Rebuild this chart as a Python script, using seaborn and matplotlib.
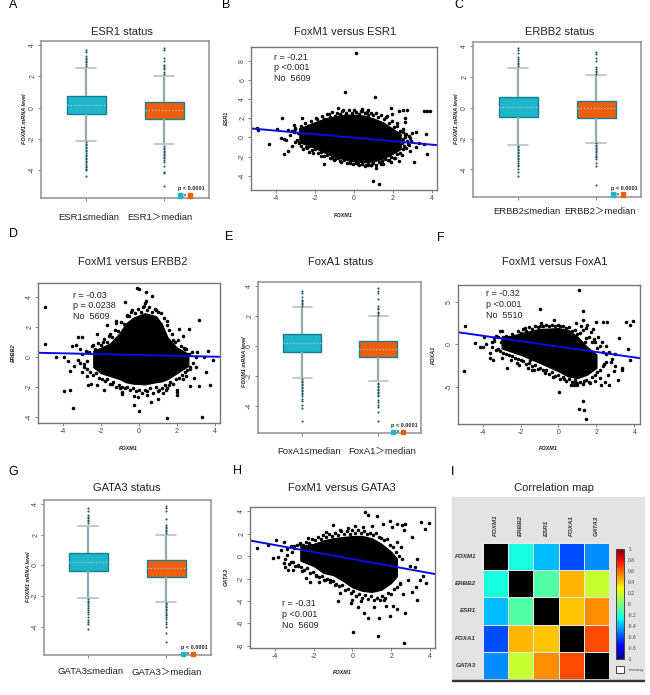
#!/usr/bin/env python

import numpy as np
import pandas as pd
import seaborn as sns
import matplotlib
matplotlib.use("Agg")
import matplotlib.pyplot as plt
from matplotlib.patches import Rectangle

# Box summaries: low whisker, q1, median, q3, high whisker
esr1_low = [-2.15, -0.42, 0.18, 0.76, 2.57]
esr1_high = [-2.34, -0.72, -0.15, 0.38, 2.0]
erbb2_low = [-2.39, -0.58, 0.05, 0.7, 2.57]
erbb2_high = [-2.26, -0.65, -0.05, 0.46, 2.1]
foxa1_low = [-2.15, -0.38, 0.2, 0.8, 2.6]
foxa1_high = [-2.36, -0.75, -0.17, 0.35, 2.0]
gata3_low = [-2.13, -0.39, 0.2, 0.79, 2.58]
gata3_high = [-2.38, -0.75, -0.17, 0.34, 2.0]

# Outliers beyond the whiskers
esr1_low_out = [3.7, 3.55, 3.3, 3.2, 3.1, 3.0, 2.9, 2.8, 2.7, -2.2, -2.3, -2.4, -2.5, -2.6, -2.7, -2.8, -2.9, -3.0,
                -3.1, -3.2, -3.3, -3.4, -3.5, -3.6, -3.7, -3.8, -3.9, -4.0, -4.4]
esr1_high_out = [3.85, 3.7, 3.15, 3.0, 2.75, 2.65, 2.55, 2.45, 2.3, 2.15, -2.45, -2.55, -2.65, -2.75, -2.85, -2.95,
                 -3.05, -3.15, -3.25, -3.35, -3.5, -3.7, -4.1, -4.2, -5.0]
erbb2_low_out = [3.85, 3.7, 3.55, 3.3, 3.15, 3.05, 2.9, 2.8, 2.7, -2.45, -2.55, -2.65, -2.75, -2.85, -2.95, -3.05,
                 -3.15, -3.25, -3.35, -3.45, -3.6, -3.7, -3.8, -3.95, -4.15, -4.4]
erbb2_high_out = [3.6, 3.45, 3.2, 3.0, 2.6, 2.5, 2.4, 2.3, 2.2, -2.3, -2.4, -2.5, -2.6, -2.7, -2.8, -2.9, -3.0, -3.1,
                  -3.2, -3.35, -3.55, -3.8, -5.0]
foxa1_low_out = [3.7, 3.55, 3.25, 3.1, 3.0, 2.9, 2.8, 2.7, -2.2, -2.3, -2.4, -2.5, -2.6, -2.7, -2.8, -2.9, -3.0, -3.1,
                 -3.2, -3.35, -3.5, -3.65, -3.9, -4.1, -5.0]
foxa1_high_out = [3.85, 3.7, 3.55, 3.15, 2.65, 2.55, 2.45, 2.3, 2.2, 2.1, -2.45, -2.55, -2.65, -2.75, -2.85, -2.95,
                  -3.05, -3.15, -3.25, -3.35, -3.6, -3.75, -3.9, -4.05, -4.4, -5.0]
gata3_low_out = [3.7, 3.55, 3.25, 3.15, 3.05, 2.95, 2.85, 2.75, -2.2, -2.3, -2.4, -2.5, -2.65, -2.8, -2.95, -3.05,
                 -3.2, -3.4, -3.55, -3.7, -3.85, -4.15]
gata3_high_out = [3.85, 3.7, 3.55, 3.0, 2.65, 2.5, 2.4, 2.3, 2.2, 2.1, -2.45, -2.55, -2.65, -2.75, -2.85, -2.95, -3.05,
                  -3.15, -3.25, -3.35, -3.5, -3.7, -3.85, -4.0, -4.4, -5.0]

# ESR1 scatter: dense core envelope and the points around it
b_core_x = [-2.8, -2.4, -2.0, -1.5, -1.0, -0.5, 0.0, 0.5, 1.0, 1.5, 2.0, 2.4]
b_core_top = [0.9, 1.3, 1.6, 2.0, 2.2, 2.4, 2.4, 2.3, 2.0, 1.6, 0.9, 0.4]
b_core_bot = [-0.5, -0.8, -1.1, -1.6, -2.0, -2.3, -2.5, -2.6, -2.5, -2.2, -1.7, -1.2]
b_x = [0.1, -0.46, 1.09, 1.0, 1.3, 1.11, -1.52, -4.36, -3.57, -3.37, -3.7, -3.93, -4.96, -4.94, 3.57, 3.73, 3.91, 3.76,
       3.69, 3.6, 3.09, 3.2, 3.0, 2.7, 2.5, 2.32, 1.91, -0.8, 0.0, 0.43, 0.73, 1.93, 2.6, 2.62, -2.65, -3.1, -3.3,
       -3.0, -2.9, -3.5, -3.6, -3.2, -2.7, -2.4, -2.1, -1.9, -1.3, -1.1, -0.6, 0.4, 0.65, 0.85, 1.4, 1.7, 2.2, 2.5,
       2.75, 2.9, 3.2, 3.35, 2.3, 1.9, 1.5, 0.9, 0.7, 0.6, 0.2, -0.2, -0.7, -1.0, -1.7, -2.3, -2.6, -2.75, 2.45, 2.1,
       1.8, -3.75, -3.4, -3.05]
b_y = [8.9, 4.74, 4.29, -4.56, -4.9, -3.24, -2.79, -0.7, -1.7, -1.4, 2.0, 0.87, 0.98, 0.77, 2.82, 2.82, 2.82, -1.78,
       0.35, -0.73, -2.54, 0.6, 0.5, 2.86, 2.93, 2.79, 3.14, 3.1, 2.86, 3.03, 2.86, 2.5, 1.64, 2.09, 2.05, 0.6, 0.3,
       1.0, -0.3, -0.3, -0.2, -0.9, -0.9, -1.1, -1.6, 1.9, 2.5, -2.2, 2.75, 2.8, 2.65, -2.9, -2.75, 2.3, 1.5, 0.9,
       -0.7, -1.4, -1.0, -0.6, -2.5, -2.6, -2.75, -2.85, -2.85, -2.85, -2.75, -2.65, -2.5, -2.4, -1.9, -1.5, -1.2,
       0.9, -1.8, -2.1, -2.35, -0.1, 0.75, 1.3]
b_edge_x = [-3.2, -3.0, -2.85, -2.7, -2.6, -2.5, -2.35, -2.2, -2.05, -1.95, -1.8, -1.65, -1.55, -1.4, -1.25, -1.15,
            -0.95, -0.85, -0.7, -0.55, -0.4, -0.25, -0.1, 0.1, 0.25, 0.35, 0.55, 0.7, 0.85, 1.0, 1.15, 1.25, 1.4, 1.55,
            1.65, 1.8, 1.95, 2.05, 2.2, 2.35, 2.5, 2.6,
            -3.0, -2.8, -2.6, -2.45, -2.3, -2.15, -2.0, -1.85, -1.7, -1.55, -1.4, -1.25, -1.1, -0.95, -0.8, -0.65,
            -0.5, -0.35, -0.2, -0.05, 0.1, 0.25, 0.4, 0.55, 0.7, 0.85, 1.0, 1.15, 1.3, 1.45, 1.6, 1.75, 1.9, 2.05, 2.2,
            2.35, 2.5, 2.65, 2.8, 2.95,
            2.5, 2.6, 2.7, 2.8, 2.45, 2.55, 2.65, 2.85]
b_edge_y = [0.7, 0.85, 0.5, 1.2, 1.0, 1.5, 1.2, 1.7, 1.4, 2.0, 1.6, 2.2, 1.9, 2.5, 2.1, 2.7, 2.3, 2.6, 2.5, 2.9, 2.6,
            2.85, 2.55, 2.7, 2.5, 2.75, 2.55, 2.4, 2.6, 2.35, 2.55, 2.1, 2.4, 1.9, 2.1, 1.5, 1.7, 1.1, 1.2, 0.7, 0.6, 0.3,
            -0.5, -0.6, -0.5, -1.0, -0.9, -1.3, -1.2, -1.6, -1.5, -1.9, -1.8, -2.2, -2.0, -2.3, -2.2, -2.6, -2.4, -2.7,
            -2.5, -2.8, -2.65, -2.9, -2.75, -2.95, -2.8, -2.9, -2.7, -2.85, -2.6, -2.5, -2.3, -2.4, -2.0, -2.1, -1.7,
            -1.6, -1.2, -1.1, -0.8, -0.4,
            -0.2, 0.1, -0.4, 0.2, -0.6, -0.9, 0.4, -0.1]
b_line_x = [-5.28, 4.26]
b_line_y = [0.95, -0.8]

# ERBB2 scatter
d_core_x = [-2.4, -2.0, -1.5, -1.0, -0.7, -0.3, 0.3, 0.9, 1.2, 1.5, 2.0, 2.6]
d_core_top = [0.4, 0.6, 0.9, 1.6, 2.2, 2.6, 2.9, 2.7, 2.2, 1.3, 0.6, 0.2]
d_core_bot = [-0.7, -1.1, -1.3, -1.5, -1.7, -1.8, -1.85, -1.7, -1.65, -1.5, -1.1, -0.6]
d_x = [-4.94, -4.93, -3.44, -3.91, -3.63, -0.75, -0.1, 0.02, 0.38, 0.68, 0.37, 0.3, 1.47, 3.3, 3.18, 2.62, 2.11, 2.34,
       3.65, 3.04, 3.42, 3.91, 3.75, 3.18, 3.51, 2.69, 1.99, 1.99, 1.99, 0.02, -0.24, 0.63, 0.98, -0.28, -0.05, 0.42,
       -0.89, -1.85, -2.69, -3.6, -3.95, -4.37, -3.21, -2.99, -3.72, -3.53, -1.22, -1.68, -2.2, -3.3, -3.1, -2.9,
       -2.75, -3.0, -3.4, -2.5, -2.2, -2.4, -1.9, -1.5, -1.2, -0.6, -0.4, 0.2, 0.9, 1.5, 1.8, 2.4, 2.7, 2.9, 3.0, 2.3,
       2.5, 1.4, 1.25, 1.6, 1.0, -1.0, -1.4, -0.9, -2.7, -3.2]
d_y = [3.31, 0.82, -3.42, -2.31, -2.2, 3.64, 4.56, 4.53, 4.31, 4.02, 3.73, 3.58, -4.09, -4.0, 2.42, 1.84, 1.84, 1.36,
       0.4, 0.33, 0.0, -0.24, -1.87, -1.98, -1.02, -1.98, -2.2, -2.38, -2.53, -3.64, -3.24, -3.02, -2.82, -2.64, -2.7,
       -2.53, -2.49, -2.24, -1.87, -0.93, 0.0, -0.02, 1.29, 1.31, -0.31, 0.69, 2.24, 2.09, 1.51, 0.8, 0.5, -0.5, -1.3,
       -1.0, -0.6, -1.8, -1.9, 0.8, 1.0, 1.5, 2.4, 2.7, 3.0, 3.3, 3.1, 2.1, 1.1, 0.5, -0.8, -1.4, -0.7, -1.5, -1.3,
       -2.2, -2.4, -1.9, -2.3, -2.1, -1.8, -2.35, -0.3, -0.2]
d_edge_x = [-3.0, -2.8, -2.6, -2.45, -2.3, -2.15, -2.0, -1.85, -1.7, -1.55, -1.4, -1.25, -1.1, -0.95, -0.8, -0.65, -0.5,
            -0.35, -0.2, -0.05, 0.1, 0.25, 0.4, 0.55, 0.7, 0.85, 1.0, 1.15, 1.3, 1.45, 1.6, 1.75, 1.9, 2.05, 2.2, 2.35,
            2.5, 2.65, 2.8, 3.0,
            -3.1, -2.9, -2.7, -2.55, -2.4, -2.25, -2.1, -1.95, -1.8, -1.65, -1.5, -1.35, -1.2, -1.05, -0.9, -0.75, -0.6,
            -0.45, -0.3, -0.15, 0.0, 0.15, 0.3, 0.45, 0.6, 0.75, 0.9, 1.05, 1.2, 1.35, 1.5, 1.65, 1.8, 1.95, 2.1, 2.25,
            2.4, 2.55, 2.7, 2.85]
d_edge_y = [0.2, 0.4, 0.3, 0.7, 0.5, 0.9, 0.8, 1.2, 1.0, 1.4, 1.3, 1.8, 1.7, 2.3, 2.2, 2.8, 2.7, 3.1, 2.9, 3.2, 3.0,
            3.35, 3.1, 3.3, 3.0, 3.2, 3.0, 2.9, 2.6, 2.4, 1.8, 1.5, 1.0, 1.1, 0.7, 0.6, 0.5, 0.2, 0.3, 0.0,
            -0.4, -0.7, -0.8, -1.0, -1.2, -1.1, -1.4, -1.5, -1.6, -1.5, -1.8, -1.7, -2.0, -1.9, -2.0, -2.1, -2.0, -2.2,
            -2.1, -2.3, -2.2, -2.4, -2.2, -2.3, -2.1, -2.4, -2.0, -2.2, -2.1, -1.9, -2.1, -1.7, -1.8, -1.5, -1.4, -1.2,
            -1.0, -0.9, -0.7, -0.4]
d_line_x = [-5.3, 4.3]
d_line_y = [0.26, -0.01]

# FoxA1 scatter
f_core_x = [-3.0, -2.0, -1.0, 0.0, 0.5, 1.0, 1.5, 2.0]
f_core_top = [0.6, 1.3, 1.8, 1.9, 1.7, 0.9, -0.3, -1.2]
f_core_bot = [-0.5, -1.25, -2.2, -3.2, -3.8, -4.0, -3.6, -2.8]
f_x = [1.1, -0.95, 1.28, -0.23, 1.28, -4.94, -4.97, -2.7, 0.02, 1.3, 1.09, 1.33, 1.45, 3.2, 3.57, 3.77, 3.92, 3.68,
       3.78, 3.36, 3.32, 3.12, 2.66, 2.24, 2.45, 2.54, 2.36, 1.98, 1.49, 0.91, 1.44, -4.38, -3.94, -4.12, -3.6, -3.43,
       -3.63, -2.98, -3.1, -1.75, -0.91, 0.88, 0.65, 0.82, 0.96, 1.35, -0.7, -1.31, -2.1, -1.49, -4.0, -3.8, -3.5,
       -3.4, -3.3, -3.2, -3.0, -2.5, -2.2, -1.6, -1.4, 1.2, 1.7, 1.85, 2.1, 2.3, 2.5, 2.65, 2.8, 3.0, 2.9, 2.6, 2.2,
       1.9, 1.65, 1.8, 1.4, 0.3, -0.3, 2.4, 2.75, 2.95]
f_y = [6.35, 4.2, 3.92, 2.82, 2.86, 2.12, -3.18, -2.86, -5.65, -6.67, -7.61, -7.8, -8.86, 0.71, 2.59, 2.31, 2.71,
       -0.51, -1.92, -2.75, -3.0, -4.27, -4.82, -4.82, -4.5, 2.63, 2.63, 2.59, 2.27, 2.47, 1.88, 0.16, 0.9, -0.35,
       -1.06, -1.92, -1.65, 1.61, 1.5, 1.88, 2.55, -4.2, -4.82, -4.82, -4.85, -4.39, -3.41, -3.02, -2.43, -1.84, -0.3,
       0.0, 0.3, 0.7, 1.0, -0.6, -1.6, -1.9, -2.2, -2.8, -3.1, 2.1, 1.4, 0.6, 0.9, 0.2, -0.2, -0.9, -1.7, -2.6, -3.2,
       -3.6, -4.0, -4.3, -4.6, 1.8, 0.2, -4.1, -3.9, -2.3, -2.1, -1.2]
f_edge_x = [-3.4, -3.2, -3.05, -2.9, -2.75, -2.6, -2.45, -2.3, -2.15, -2.0, -1.85, -1.7, -1.55, -1.4, -1.25, -1.1, -0.95,
            -0.8, -0.65, -0.5, -0.35, -0.2, -0.05, 0.1, 0.25, 0.4, 0.55, 0.7, 0.85, 1.0, 1.15, 1.3, 1.45, 1.6, 1.75, 1.9,
            2.05, 2.2, 2.35, 2.5,
            -3.5, -3.3, -3.1, -2.9, -2.75, -2.6, -2.45, -2.3, -2.15, -2.0, -1.85, -1.7, -1.55, -1.4, -1.25, -1.1, -0.95,
            -0.8, -0.65, -0.5, -0.35, -0.2, -0.05, 0.1, 0.25, 0.4, 0.55, 0.7, 0.85, 1.0, 1.15, 1.3, 1.45, 1.6, 1.75, 1.9,
            2.05, 2.2, 2.35, 2.5]
f_edge_y = [0.4, 0.8, 0.3, 0.9, 1.0, 0.8, 1.2, 1.0, 1.6, 1.3, 1.8, 1.6, 2.0, 1.8, 2.1, 2.0, 2.2, 2.1, 2.3, 2.2, 2.3,
            2.2, 2.3, 2.1, 2.2, 1.9, 2.0, 1.6, 1.7, 1.2, 1.3, 1.7, 0.7, 0.8, 0.2, 0.3, -0.4, -0.2, -0.9, -1.2,
            -0.3, -0.7, -0.8, -1.0, -1.1, -1.3, -1.4, -1.6, -1.7, -1.9, -2.0, -2.3, -2.2, -2.6, -2.5, -2.9, -2.8, -3.1,
            -3.0, -3.5, -3.3, -3.8, -3.6, -4.1, -3.9, -4.3, -4.1, -4.5, -4.4, -4.6, -4.4, -4.7, -4.2, -4.4, -3.9, -3.6,
            -3.3, -3.0, -2.6, -2.1]
f_line_x = [-5.29, 4.29]
f_line_y = [1.41, -1.65]

# GATA3 scatter
h_core_x = [-2.7, -2.0, -1.5, -1.0, -0.5, 0.0, 0.5, 1.0, 1.5, 2.0, 2.3]
h_core_top = [0.9, 1.1, 1.4, 1.6, 1.7, 1.8, 1.8, 1.6, 1.1, 0.4, -0.2]
h_core_bot = [-0.4, -0.9, -1.5, -1.7, -2.2, -2.8, -3.1, -3.2, -3.0, -2.4, -1.8]
h_x = [0.66, 0.81, 1.28, -1.02, 0.12, 3.56, 3.94, 3.77, 3.06, 1.93, 1.59, 2.02, 2.33, 2.54, 2.71, 2.68, -4.94, -4.35,
       -3.94, -3.56, -4.11, -3.85, -3.33, -3.54, 3.33, 2.97, 3.23, 3.66, 3.78, 3.49, 3.28, 3.33, 2.71, 2.28, 1.93,
       1.35, 0.79, 0.6, 0.03, 1.3, 2.68, -0.74, -0.05, -2.42, -2.21, -1.73, -1.17, -0.66, 0.29, 1.11, 1.76, 2.11, 2.63,
       3.06, -1.38, -2.3, -2.73, -3.15, -0.66, -0.22, 0.55, 1.02, -3.7, -3.4, -3.2, -3.0, -2.8, -3.5, -3.1, -2.6,
       -1.9, -1.4, -0.9, 0.0, 0.45, 1.65, 2.3, 2.5, 2.85, 2.45]
h_y = [3.93, 3.7, 3.55, 2.78, 2.66, 3.02, 2.93, 2.46, 1.66, 3.11, 2.9, 2.6, 2.9, 2.75, 2.84, 2.37, 0.68, 0.98, 1.45,
       1.27, -0.21, -0.1, -1.24, -0.65, -0.3, -0.89, -1.0, -1.78, -2.37, -2.13, -2.72, -3.88, -5.09, -4.73, -5.38,
       -5.53, -5.5, -5.09, -6.75, -7.1, -7.75, -4.05, -4.2, -1.92, -2.28, -2.34, -2.13, -3.31, -4.56, -4.5, -4.44,
       -4.41, -3.37, -3.17, 2.16, 1.57, 1.18, 0.4, 2.31, 2.54, 2.6, 2.66, 0.5, 0.1, -0.5, 0.9, -0.9, -1.0, -1.2, -1.3,
       -1.8, -2.1, -2.6, -3.9, -4.0, -3.9, 1.3, 0.8, -2.1, -2.5]
h_edge_x = [-3.4, -3.2, -3.0, -2.85, -2.7, -2.55, -2.4, -2.25, -2.1, -1.95, -1.8, -1.65, -1.5, -1.35, -1.2, -1.05, -0.9,
            -0.75, -0.6, -0.45, -0.3, -0.15, 0.0, 0.15, 0.3, 0.45, 0.6, 0.75, 0.9, 1.05, 1.2, 1.35, 1.5, 1.65, 1.8, 1.95,
            2.1, 2.25, 2.4, 2.55,
            -3.5, -3.3, -3.1, -2.95, -2.8, -2.65, -2.5, -2.35, -2.2, -2.05, -1.9, -1.75, -1.6, -1.45, -1.3, -1.15, -1.0,
            -0.85, -0.7, -0.55, -0.4, -0.25, -0.1, 0.05, 0.2, 0.35, 0.5, 0.65, 0.8, 0.95, 1.1, 1.25, 1.4, 1.55, 1.7, 1.85,
            2.0, 2.15, 2.3, 2.45]
h_edge_y = [0.6, 0.9, 0.7, 1.0, 1.1, 1.0, 1.3, 1.2, 1.5, 1.4, 1.7, 1.5, 1.9, 1.7, 2.0, 1.8, 2.1, 1.9, 2.2, 2.0, 2.2, 2.0,
            2.3, 2.1, 2.3, 2.1, 2.2, 2.0, 2.1, 1.9, 2.1, 1.7, 1.6, 1.4, 1.5, 1.0, 0.8, 0.4, 0.0, -0.3,
            -0.3, -0.7, -0.5, -0.9, -0.8, -1.0, -1.2, -1.1, -1.5, -1.4, -1.7, -1.9, -1.8, -2.1, -2.0, -2.3, -2.2, -2.5,
            -2.7, -2.6, -3.0, -2.9, -3.3, -3.1, -3.6, -3.4, -3.7, -3.5, -3.8, -3.6, -3.9, -3.7, -3.9, -3.6, -3.7, -3.3,
            -3.4, -2.9, -2.8, -2.4]
h_line_x = [-5.3, 4.27]
h_line_y = [1.39, -1.6]

# Correlation map, diagonal is missing
genes = ["FOXM1", "ERBB2", "ESR1", "FOXA1", "GATA3"]
row_foxm1 = [np.nan, -0.25, -0.38, -0.6, -0.47]
row_erbb2 = [-0.25, np.nan, -0.1, 0.43, 0.18]
row_esr1 = [-0.38, -0.1, np.nan, 0.4, 0.52]
row_foxa1 = [-0.6, 0.43, 0.4, np.nan, 0.66]
row_gata3 = [-0.47, 0.18, 0.52, 0.66, np.nan]
cbar_ticks = [-1, -0.8, -0.6, -0.4, -0.2, 0, 0.2, 0.4, 0.6, 0.8, 1]

W, H = 650, 695
CYAN = "#1fb5ca"
ORANGE = "#ee5f0d"
SPINE = "#8f8f8f"

sns.set_theme(style="white")
plt.rcParams["font.family"] = ["Liberation Sans", "Noto Sans CJK SC", "DejaVu Sans"]
plt.rcParams["axes.unicode_minus"] = False

fig = plt.figure(figsize=(W / 100, H / 100), dpi=100)


def px_axes(x0, y0, x1, y1):
    return fig.add_axes([x0 / W, 1 - y1 / H, (x1 - x0) / W, (y1 - y0) / H])


def label(x, y, s, size=8, **kw):
    kw.setdefault("ha", "center")
    kw.setdefault("va", "center")
    kw.setdefault("color", "#222222")
    fig.text(x / W, 1 - y / H, s, fontsize=size, **kw)


def style_axes(ax, color=SPINE, lw=1.1):
    for s in ax.spines.values():
        s.set_visible(True)
        s.set_color(color)
        s.set_linewidth(lw)
    ax.tick_params(length=2, width=0.5, color="#555555", labelsize=5, labelcolor="#444444", pad=1.5,
                   left=True, bottom=True)
    for t in ax.get_yticklabels():
        t.set_rotation(90)
        t.set_va("center")


def box_panel(box, centers, ylim, low, high, low_out, high_out, names, title, title_xy, name_xy, ylab_xy, key_xy):
    ax = px_axes(*box)
    df = pd.DataFrame({"group": [names[0]] * 5 + [names[1]] * 5, "value": low + high})
    sns.boxplot(data=df, x="group", y="value", hue="group", palette=[CYAN, ORANGE], saturation=1, legend=False,
                width=0.5, whis=(0, 100), showfliers=False, linewidth=1, ax=ax,
                boxprops={"edgecolor": "#17808f"},
                whiskerprops={"color": "#93abad", "linewidth": 1.6},
                capprops={"color": "#b4c4c5", "linewidth": 1.2},
                medianprops={"color": "#b9c6b8", "linewidth": 0.9, "linestyle": ":"})
    out = pd.DataFrame({"group": [names[0]] * len(low_out) + [names[1]] * len(high_out),
                        "value": low_out + high_out})
    sns.stripplot(data=out, x="group", y="value", order=names, jitter=False, color="#1d5663", size=1.5, linewidth=0,
                  ax=ax)
    step = (centers[1] - centers[0])
    ax.set_xlim((box[0] - centers[0]) / step, (box[2] - centers[0]) / step)
    ax.set_ylim(*ylim)
    ax.set_yticks([-4, -2, 0, 2, 4])
    ax.set_xticks([0, 1])
    ax.set_xticklabels([])
    ax.set_xlabel("")
    ax.set_ylabel("")
    style_axes(ax)
    label(title_xy[0], title_xy[1], title)
    label(name_xy[0][0], name_xy[0][1], names[0], size=6.8)
    label(name_xy[1][0], name_xy[1][1], names[1], size=6.8)
    label(ylab_xy[0], ylab_xy[1], "FOXM1 mRNA level", size=4, rotation=90, style="italic", weight="bold")
    # p value key
    kx, ky = key_xy
    label(kx, ky, "p < 0.0001", size=4, weight="bold")
    fig.add_artist(Rectangle(((kx - 13) / W, 1 - (ky + 8.5) / H), 4 / W, 4 / H, color=CYAN,
                             transform=fig.transFigure))
    label(kx - 6.5, ky + 6.5, ">", size=4, weight="bold")
    fig.add_artist(Rectangle(((kx - 3) / W, 1 - (ky + 8.5) / H), 4 / W, 4 / H, color=ORANGE,
                             transform=fig.transFigure))


def scatter_panel(box, xlim, ylim, yticks, core, xs, ys, line_x, line_y, ylabel, title, title_xy, stat_xy, xlab_xy,
                  ylab_xy, stats):
    ax = px_axes(*box)
    ax.fill_between(core[0], core[1], core[2], color="black", lw=0.8)
    sns.scatterplot(x=xs, y=ys, s=6.5, color="black", linewidth=0, ax=ax)
    sns.lineplot(x=line_x, y=line_y, color="#0a0ae6", linewidth=1.4, errorbar=None, ax=ax)
    ax.set_xlim(*xlim)
    ax.set_ylim(*ylim)
    ax.set_xticks([-4, -2, 0, 2, 4])
    ax.set_yticks(yticks)
    style_axes(ax, color="#777777", lw=1)
    label(title_xy[0], title_xy[1], title)
    for i, s in enumerate(stats):
        label(stat_xy[0], stat_xy[1] + i * 10.7, s, size=6.5, ha="left")
    label(xlab_xy[0], xlab_xy[1], "FOXM1", size=4, style="italic", weight="bold")
    label(ylab_xy[0], ylab_xy[1], ylabel, size=4, rotation=90, style="italic", weight="bold")


box_panel((41, 41, 209, 198), (86, 164), (-5.78, 4.27), esr1_low, esr1_high, esr1_low_out, esr1_high_out,
          ["ESR1≤median", "ESR1＞median"], "ESR1 status", (122, 32), ((89, 217), (160, 217)), (25, 119), (191, 189))
box_panel((473, 42, 641, 197), (518, 596), (-5.78, 4.25), erbb2_low, erbb2_high, erbb2_low_out, erbb2_high_out,
          ["ERBB2≤median", "ERBB2＞median"], "ERBB2 status", (560, 32), ((527, 211), (600, 211)), (456, 119),
          (624, 188))
box_panel((258, 282, 421, 433), (302, 378), (-5.8, 4.27), foxa1_low, foxa1_high, foxa1_low_out, foxa1_high_out,
          ["FoxA1≤median", "FoxA1＞median"], "FoxA1 status", (341, 262), ((309, 451), (382, 451)), (245, 362),
          (404, 425))
box_panel((44, 500, 211, 655), (88, 166), (-5.85, 4.25), gata3_low, gata3_high, gata3_low_out, gata3_high_out,
          ["GATA3≤median", "GATA3＞median"], "GATA3 status", (127, 488), ((91, 672), (167, 672)), (29, 577),
          (194, 647))

scatter_panel((251, 47, 437, 190), (-5.28, 4.26), (-5.5, 9.48), [-4, -2, 0, 2, 4, 6, 8],
              (b_core_x, b_core_top, b_core_bot), b_x + b_edge_x, b_y + b_edge_y, b_line_x, b_line_y, "ESR1",
              "FoxM1 versus ESR1", (345, 32), (273.5, 57), (343, 215), (226, 118),
              ["r = -0.21", "p <0.001", "No  5609"])
scatter_panel((38, 283, 220, 423), (-5.3, 4.26), (-4.42, 4.91), [-4, -2, 0, 2, 4],
              (d_core_x, d_core_top, d_core_bot), d_x + d_edge_x, d_y + d_edge_y, d_line_x, d_line_y, "ERBB2",
              "FoxM1 versus ERBB2", (133, 262), (73, 295), (128, 448), (13, 353),
              ["r = -0.03", "p = 0.0238", "No  5609"])
scatter_panel((458, 285, 640, 424), (-5.29, 4.29), (-9.41, 6.98), [-5, 0, 5],
              (f_core_x, f_core_top, f_core_bot), f_x + f_edge_x, f_y + f_edge_y, f_line_x, f_line_y, "FOXA1",
              "FoxM1 versus FoxA1", (555, 262), (486, 294), (548, 449), (433, 355),
              ["r = -0.32", "p <0.001", "No  5510"])
scatter_panel((250, 507, 435, 648), (-5.3, 4.27), (-8.2, 4.38), [-8, -6, -4, -2, 0, 2, 4],
              (h_core_x, h_core_top, h_core_bot), h_x + h_edge_x, h_y + h_edge_y, h_line_x, h_line_y, "GATA3",
              "FoxM1 versus GATA3", (342, 488), (282, 604), (342, 673), (226, 577),
              ["r = -0.31", "p <0.001", "No  5609"])

# Correlation map
fig.add_artist(Rectangle((452 / W, 1 - 680 / H), 192 / W, 183 / H, color="#e3e3e3", transform=fig.transFigure,
                         zorder=-5))
fig.add_artist(Rectangle((452 / W, 1 - 680.5 / H), 192 / W, 1 / H, color="#333333", transform=fig.transFigure))
ax_map = px_axes(483, 543, 609, 679)
ax_cbar = px_axes(616, 549, 624, 659)
corr = pd.DataFrame([row_foxm1, row_erbb2, row_esr1, row_foxa1, row_gata3], index=genes, columns=genes)
sns.heatmap(corr, vmin=-1, vmax=1, cmap="jet", linewidths=0.6, linecolor="#e8e8e8", ax=ax_map, cbar_ax=ax_cbar,
            cbar_kws={"ticks": cbar_ticks})
ax_map.set_facecolor("black")
ax_map.xaxis.tick_top()
ax_map.tick_params(length=0, labelsize=4.5, labelcolor="#333333", pad=5)
ax_map.set_xticklabels(genes, rotation=90, style="italic", weight="bold")
ax_map.set_yticklabels(genes, rotation=0, style="italic", weight="bold")
ax_cbar.tick_params(length=0, labelsize=3.6, labelcolor="#444444", pad=3)
ax_cbar.set_yticklabels(["-1", "-0.8", "-0.6", "-0.4", "-0.2", "0", "0.2", "0.4", "0.6", "0.8", "1"])
for s in ax_cbar.spines.values():
    s.set_visible(True)
    s.set_color("#444444")
    s.set_linewidth(0.6)
fig.add_artist(Rectangle((616 / W, 1 - 673 / H), 8 / W, 7 / H, facecolor="white", edgecolor="#444444", lw=0.7,
                         transform=fig.transFigure))
label(636, 670, "missing", size=3.2, color="#444444")
label(554, 488, "Correlation map")

# Panel letters
for s, x, y in [("A", 13, 5), ("B", 226, 5), ("C", 459, 5), ("D", 13, 234), ("E", 229, 237), ("F", 441, 238),
                ("G", 13, 472), ("H", 238, 471), ("I", 453, 472)]:
    label(x, y, s, size=9, color="black")

fig.savefig("out.png", dpi=100, facecolor="white")
plt.close(fig)
